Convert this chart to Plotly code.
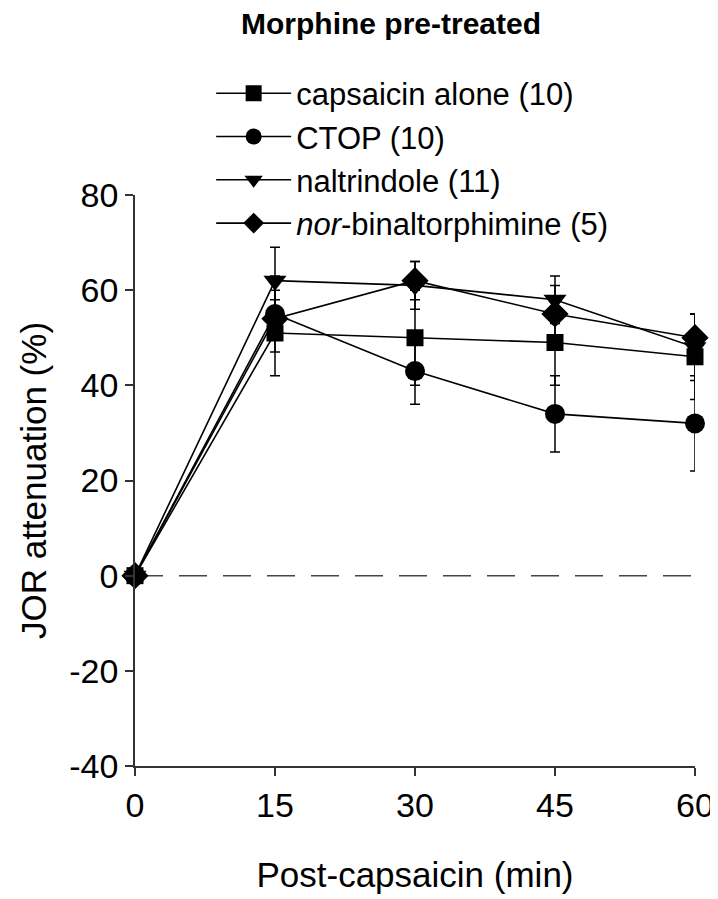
import plotly.graph_objects as go

# time points (min after capsaicin)
minutes = [0, 15, 30, 45, 60]

# JOR attenuation (%) mean and SEM per group
capsaicin_alone = [0, 51, 50, 49, 46]
capsaicin_alone_err = [0, 9, 10, 9, 9]
ctop = [0, 55, 43, 34, 32]
ctop_err = [0, 8, 7, 8, 10]
naltrindole = [0, 62, 61, 58, 48]
naltrindole_err = [0, 7, 5, 5, 7]
nor_bni = [0, 54, 62, 55, 50]
nor_bni_err = [0, 4, 4, 6, 5]

x_ticks = [0, 15, 30, 45, 60]
y_ticks = [-40, -20, 0, 20, 40, 60, 80]

FONT = "Liberation Sans, Arial, sans-serif"

groups = [
    ("capsaicin alone (10)", capsaicin_alone, capsaicin_alone_err, "square", 17),
    ("CTOP (10)", ctop, ctop_err, "circle", 20),
    ("naltrindole (11)", naltrindole, naltrindole_err, "triangle-down", 20),
    ("<i>nor</i>-binaltorphimine (5)", nor_bni, nor_bni_err, "diamond", 21),
]

fig = go.Figure()

for name, vals, err, sym, size in groups:
    fig.add_trace(go.Scatter(
        x=minutes, y=vals, name=name, mode="lines+markers",
        line=dict(color="black", width=1.6),
        marker=dict(symbol=sym, size=size, color="black"),
        error_y=dict(type="data", array=err, color="black", thickness=1.5, width=5),
        cliponaxis=False,
    ))

# dashed zero reference line
fig.add_shape(type="line", xref="x", yref="y", x0=0, x1=60, y0=0, y1=0,
              line=dict(color="#444", width=1.5, dash="28px,16px"), layer="below")

fig.update_layout(
    width=718, height=899, autosize=False,
    margin=dict(l=127, r=19, t=187, b=141),
    paper_bgcolor="white", plot_bgcolor="white",
    font=dict(family=FONT, size=30, color="black"),
    showlegend=True,
    legend=dict(x=0.136, y=1.225, xanchor="left", yanchor="top", itemwidth=75,
                bgcolor="rgba(0,0,0,0)", font=dict(size=31), tracegroupgap=0),
    xaxis=dict(range=[0, 60], tickvals=x_ticks, showgrid=False, zeroline=False,
               showline=True, linecolor="#333", linewidth=1.5,
               ticks="outside", ticklen=8, tickcolor="#333", tickwidth=1.5,
               tickfont=dict(size=34),
               title=dict(text="Post-capsaicin (min)", font=dict(size=35), standoff=40)),
    yaxis=dict(range=[-40, 80], tickvals=y_ticks, ticktext=[str(v) for v in y_ticks],
               showgrid=False, zeroline=False,
               showline=True, linecolor="#333", linewidth=1.5,
               ticks="outside", ticklen=8, tickcolor="#333", tickwidth=1.5,
               tickfont=dict(size=34),
               title=dict(text="JOR attenuation (%)", font=dict(size=35), standoff=12)),
    annotations=[dict(text="<b>Morphine pre-treated</b>", xref="paper", yref="paper",
                      x=0.458, y=1.30, xanchor="center", yanchor="middle",
                      showarrow=False, font=dict(size=30))],
)

fig.write_html("out.html")
